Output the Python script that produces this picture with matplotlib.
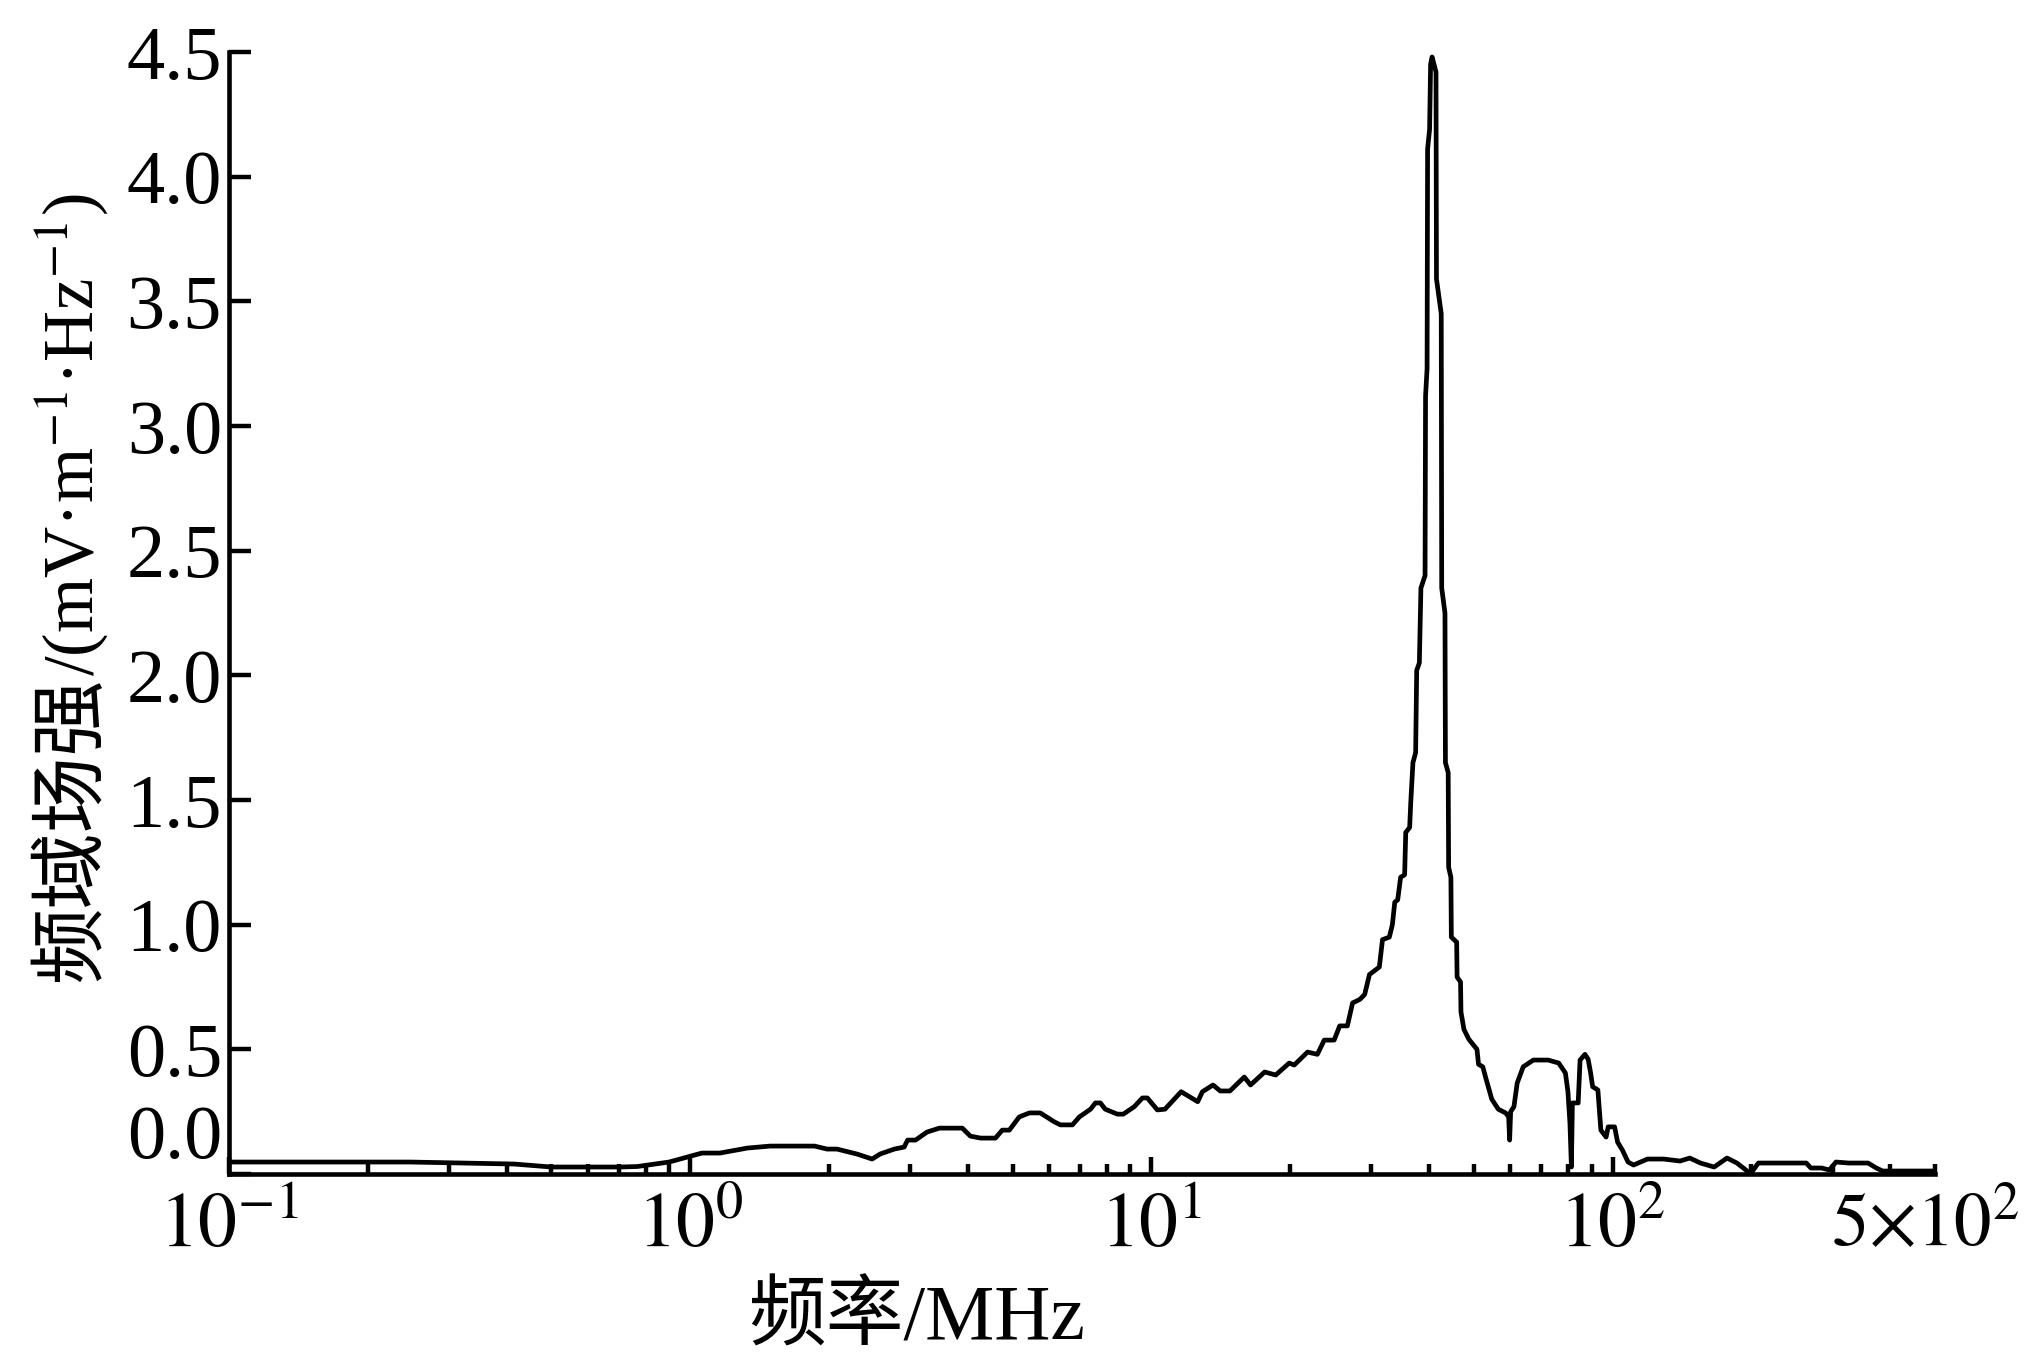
import numpy as np
import matplotlib
matplotlib.use("Agg")
import matplotlib.pyplot as plt
import matplotlib.transforms as mtransforms
from matplotlib.ticker import FixedLocator, FixedFormatter

plt.rcParams['font.family'] = ['Liberation Serif', 'Noto Sans CJK SC']
plt.rcParams['mathtext.fontset'] = 'stix'

# frequency-domain field strength
freq_mhz = [0.10, 0.247, 0.415, 0.50, 0.705, 0.768, 0.90, 0.985, 1.06, 1.16,
            1.33, 1.49, 1.86, 1.98, 2.08, 2.30, 2.48, 2.58, 2.77, 2.91,
            2.96, 3.08, 3.26, 3.47, 3.89, 4.05, 4.26, 4.59, 4.75, 4.92,
            5.17, 5.44, 5.74, 6.16, 6.35, 6.74, 6.98, 7.38, 7.56, 7.75,
            7.94, 8.44, 8.69, 9.18, 9.56, 9.80, 10.3, 10.7, 11.6, 12.6,
            12.9, 13.6, 14.1, 14.8, 15.9, 16.4, 17.6, 18.6, 19.9, 20.4,
            21.8, 22.9, 23.7, 24.9, 25.6, 26.6, 27.3, 28.3, 29.0, 29.7,
            31.2, 31.7, 32.8, 33.3, 33.7, 34.2, 34.7, 35.4, 35.6, 36.3,
            36.5, 36.9, 37.4, 37.6, 38.1, 38.4, 39.2, 39.3, 39.6, 39.7,
            40.1, 40.3, 40.6, 41.0, 41.4, 41.5, 42.5, 42.6, 43.3, 43.4,
            44.0, 44.1, 44.6, 44.7, 45.9, 46.0, 46.8, 46.9, 47.6, 48.8,
            50.8, 51.2, 52.3, 53.0, 54.7, 56.5, 58.6, 59.5, 59.8, 60.1,
            61.1, 62.1, 64.0, 67.3, 72.5, 76.4, 79.0, 80.0, 80.8, 81.4,
            81.8, 84.2, 85.0, 87.1, 88.5, 89.6, 90.5, 92.9, 94.3, 96.8,
            97.8, 101, 102.5, 105, 108, 111, 119, 129, 140, 147,
            155, 166, 177, 186, 197, 200, 207, 263, 269, 284,
            295, 305, 325, 358, 373, 385, 500]
field = [0.048, 0.048, 0.040, 0.028, 0.028, 0.030, 0.048, 0.068, 0.084, 0.084,
         0.104, 0.112, 0.112, 0.100, 0.100, 0.080, 0.060, 0.080, 0.100, 0.108,
         0.136, 0.136, 0.168, 0.184, 0.184, 0.152, 0.144, 0.144, 0.176, 0.176,
         0.229, 0.245, 0.245, 0.209, 0.197, 0.197, 0.229, 0.260, 0.285, 0.285,
         0.260, 0.240, 0.240, 0.270, 0.305, 0.305, 0.257, 0.260, 0.330, 0.290,
         0.330, 0.357, 0.333, 0.333, 0.389, 0.357, 0.409, 0.397, 0.445, 0.437,
         0.489, 0.480, 0.537, 0.537, 0.594, 0.594, 0.686, 0.700, 0.720, 0.800,
         0.830, 0.940, 0.950, 1.00, 1.09, 1.10, 1.19, 1.20, 1.37, 1.39,
         1.49, 1.65, 1.69, 2.02, 2.05, 2.35, 2.40, 3.12, 3.23, 4.11,
         4.19, 4.45, 4.48, 4.45, 4.42, 3.59, 3.45, 2.35, 2.25, 1.65,
         1.61, 1.23, 1.19, 0.95, 0.93, 0.79, 0.77, 0.65, 0.58, 0.54,
         0.50, 0.44, 0.43, 0.39, 0.30, 0.26, 0.245, 0.23, 0.136, 0.25,
         0.27, 0.365, 0.43, 0.457, 0.457, 0.445, 0.405, 0.33, 0.205, 0.028,
         0.285, 0.285, 0.457, 0.48, 0.46, 0.405, 0.35, 0.337, 0.176, 0.148,
         0.189, 0.189, 0.128, 0.096, 0.048, 0.036, 0.06, 0.06, 0.052, 0.064,
         0.044, 0.028, 0.064, 0.044, 0.008, 0.006, 0.044, 0.044, 0.024, 0.024,
         0.016, 0.048, 0.044, 0.044, 0.024, 0.012, 0.012]

ytick_vals = [0.0, 0.5, 1.0, 1.5, 2.0, 2.5, 3.0, 3.5, 4.0, 4.5]
ytick_labels = ['0.0', '0.5', '1.0', '1.5', '2.0', '2.5', '3.0', '3.5', '4.0', '4.5']
xtick_vals = [0.1, 1, 10, 100]
xtick_labels = [r'$10^{-1}$', r'$10^{0}$', r'$10^{1}$', r'$10^{2}$']
xend_val = 500
xend_label = r'$5{\times}10^{2}$'

xlabel = "频率/MHz"
ylabel_cjk = "频域场强"
ylabel_unit = r"/(mV·m$^{-1}$·Hz$^{-1}$)"

W, H = 2025, 1360
fig = plt.figure(figsize=(W / 100, H / 100), dpi=100)
ax = fig.add_axes([229 / W, 1 - 1174 / H, (1935 - 229) / W, (1174 - 52) / H])

ax.plot(freq_mhz, field, color='black', lw=3.4)

ax.set_xscale('log')
ax.set_xlim(0.1, 500)
ax.set_ylim(0, 4.5)

for s in ['top', 'right']:
    ax.spines[s].set_visible(False)
for s in ['left', 'bottom']:
    ax.spines[s].set_linewidth(3.3)

ax.yaxis.set_major_locator(FixedLocator(ytick_vals))
ax.yaxis.set_major_formatter(FixedFormatter(ytick_labels))
ax.tick_params(axis='y', direction='in', length=16, width=3.2, pad=5,
               labelsize=55)

minor = [m * 10.0 ** e for e in range(-1, 3) for m in range(2, 10)]
minor = [v for v in minor if v <= xend_val]
ax.xaxis.set_major_locator(FixedLocator(xtick_vals))
ax.xaxis.set_major_formatter(FixedFormatter(xtick_labels))
ax.xaxis.set_minor_locator(FixedLocator(minor))
ax.xaxis.set_minor_formatter(FixedFormatter(
    [xend_label if abs(v - xend_val) < 1e-6 else '' for v in minor]))
ax.tick_params(axis='x', which='major', direction='in', length=12, width=3.2,
               pad=13, labelsize=56)
ax.tick_params(axis='x', which='minor', direction='in', length=7.5, width=3.2,
               pad=13, labelsize=54)

# the 0.0 label sits above its tick in the original
ax.yaxis.get_major_ticks()[0].label1.set_va('bottom')
# keep the 5x10^2 label inside the canvas
end_lab = ax.xaxis.get_minor_ticks()[-1].label1
end_lab.set_transform(end_lab.get_transform() +
                      mtransforms.ScaledTranslation(-0.1, 0, fig.dpi_scale_trans))

fig.text(917 / W, 1 - 1320 / H, xlabel, ha='center', va='center', fontsize=56)

t1 = fig.text(93 / W, 1 - 982 / H, ylabel_cjk, rotation=90, rotation_mode='anchor',
              ha='left', va='baseline', family='Noto Sans CJK SC', fontsize=55)
fig.canvas.draw()
bb = t1.get_window_extent()
fig.text(93 / W, bb.y1 / fig.bbox.height, ylabel_unit, rotation=90,
         rotation_mode='anchor', ha='left', va='baseline',
         family='Liberation Serif', fontsize=51)

fig.savefig('out.png', dpi=100)
